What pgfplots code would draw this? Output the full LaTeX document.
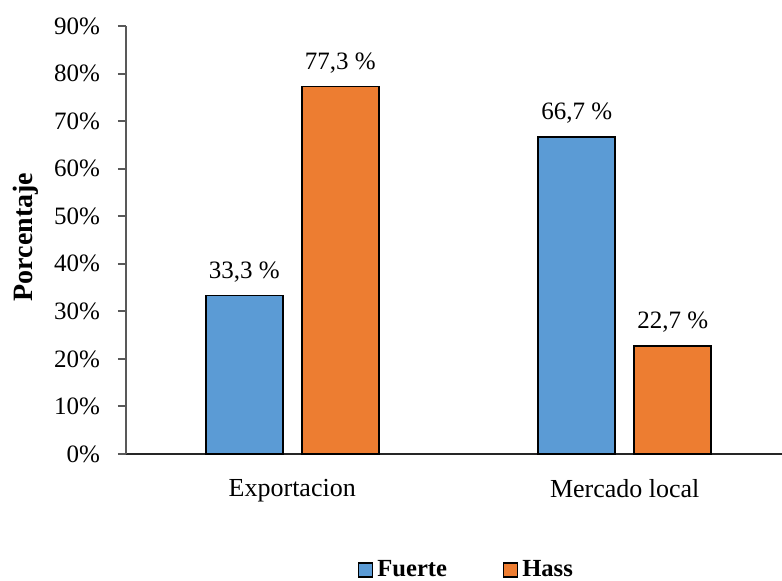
\documentclass[border=0pt]{standalone}
\usepackage{pgfplots}
\pgfplotsset{compat=1.18}
\usepackage{fontspec}
\setmainfont{Liberation Serif}
\definecolor{fuerte}{HTML}{5B9BD5}
\definecolor{hass}{HTML}{ED7D31}
\begin{document}
\begin{tikzpicture}
\path[use as bounding box] (-63pt,-63.5pt) rectangle (328pt,227pt);
\begin{axis}[
  /pgf/number format/assume math mode=true,
  scale only axis,
  width=328pt, height=214pt,
  at={(0,0)}, anchor=south west,
  ybar=9.5pt, bar width=38.5pt,
  xmin=-0.5, xmax=1.473,
  ymin=0, ymax=90,
  ytick={0,10,...,90},
  yticklabel={\pgfmathprintnumber{\tick}\%},
  xtick={0,1},
  xticklabels={Exportacion,Mercado local},
  axis x line*=bottom,
  axis y line*=left,
  x axis line style={draw=black!85, line width=1pt},
  y axis line style={draw=black!65, line width=1pt},
  tick align=outside,
  major tick length=4pt,
  ytick style={draw=black!65, line width=1pt},
  xtick style={draw=none},
  yticklabel style={font=\fontsize{12.5}{14}\selectfont, xshift=-5.5pt},
  xticklabel style={font=\fontsize{13}{15}\selectfont, yshift=-5pt},
  ylabel={\textbf{Porcentaje}},
  ylabel style={font=\fontsize{14}{16}\selectfont, at={(axis description cs:-0.153,0.507)}, anchor=center, rotate=0},
  nodes near coords={\pgfmathprintnumber[fixed,fixed zerofill,precision=1,use comma]{\pgfplotspointmeta}~\%},
  every node near coord/.append style={font=\fontsize{12.5}{14}\selectfont, yshift=3pt, black},
  legend style={at={(axis description cs:0.5206,-0.271)}, anchor=center, draw=none, fill=none,
    font=\fontsize{12.3}{14}\selectfont\bfseries, legend columns=2,
    /tikz/every even column/.append style={column sep=26pt}},
  legend image code/.code={\draw[#1, line width=0.6pt, draw=black] (0pt,-3.5pt) rectangle (7pt,3.5pt);},
  clip=false,
]
\addplot[fill=fuerte, draw=black, line width=0.85pt] coordinates {(0,33.3) (1,66.7)};
\addplot[fill=hass, draw=black, line width=0.85pt] coordinates {(0,77.3) (1,22.7)};
\legend{Fuerte,Hass}
\end{axis}
\end{tikzpicture}
\end{document}
